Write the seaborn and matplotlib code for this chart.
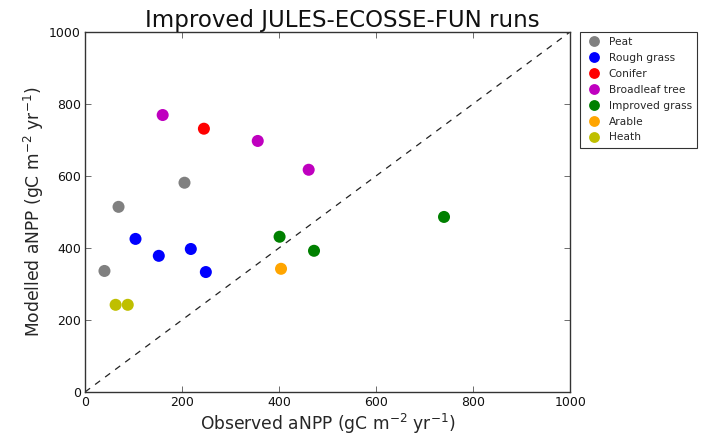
import matplotlib
matplotlib.use("Agg")
import matplotlib.pyplot as plt
import seaborn as sns
import pandas as pd

categories = ["Peat", "Rough grass", "Conifer", "Broadleaf tree",
              "Improved grass", "Arable", "Heath"]
colors = ["grey", "blue", "red", "#bf00bf", "green", "orange", "#bfbf00"]

peat_obs = [40, 69, 205]
peat_mod = [336, 514, 581]
rough_obs = [104, 152, 218, 249]
rough_mod = [425, 378, 397, 333]
conifer_obs = [245]
conifer_mod = [731]
broadleaf_obs = [160, 356, 461]
broadleaf_mod = [769, 697, 617]
improved_obs = [401, 472, 740]
improved_mod = [431, 392, 486]
arable_obs = [404]
arable_mod = [342]
heath_obs = [63, 88]
heath_mod = [242, 242]

obs = [peat_obs, rough_obs, conifer_obs, broadleaf_obs, improved_obs, arable_obs, heath_obs]
mod = [peat_mod, rough_mod, conifer_mod, broadleaf_mod, improved_mod, arable_mod, heath_mod]

rows = []
for cat, xs, ys in zip(categories, obs, mod):
    for x, y in zip(xs, ys):
        rows.append({"Observed": x, "Modelled": y, "Type": cat})
df = pd.DataFrame(rows)

sns.set_style("ticks")
plt.rcParams["font.family"] = ["DejaVu Sans"]
plt.rcParams["xtick.direction"] = "in"
plt.rcParams["ytick.direction"] = "in"

fig = plt.figure(figsize=(7.03, 4.36), dpi=100)
ax = fig.add_axes([0.121, 0.101, 0.690, 0.826])

ax.plot([0, 1000], [0, 1000], linestyle=(0, (5, 5)), color="#222222",
        linewidth=0.9, zorder=1)
sns.scatterplot(data=df, x="Observed", y="Modelled", hue="Type",
                hue_order=categories, palette=colors, s=75, linewidth=0,
                ax=ax, zorder=3)

ax.set_xlim(0, 1000)
ax.set_ylim(0, 1000)
ax.set_xticks(range(0, 1001, 200))
ax.set_yticks(range(0, 1001, 200))
ax.tick_params(axis="both", which="both", direction="in", top=True, right=True,
               labelsize=9, length=4, width=0.6, color="#555555", pad=3,
               labelcolor="#111111")
for sp in ax.spines.values():
    sp.set_visible(True)
    sp.set_color("#333333")
    sp.set_linewidth(1.0)

ax.set_xlabel(r"Observed aNPP (gC m$^{-2}$ yr$^{-1}$)", fontsize=12.3, labelpad=2)
ax.set_ylabel(r"Modelled aNPP (gC m$^{-2}$ yr$^{-1}$)", fontsize=12.3, labelpad=2)
fig.text(342 / 703, 1 - 20 / 436, "Improved JULES-ECOSSE-FUN runs",
         fontsize=16.5, ha="center", va="center", color="#111111")

leg = ax.legend(loc="upper left", bbox_to_anchor=(1.02, 1.0), fontsize=7.7,
                frameon=True, fancybox=False, borderaxespad=0, markerscale=0.9,
                handletextpad=0.6, labelspacing=0.55, borderpad=0.5,
                handlelength=1.6)
leg.get_frame().set_edgecolor("black")
leg.get_frame().set_linewidth(0.8)

fig.savefig("out.png", dpi=100)
